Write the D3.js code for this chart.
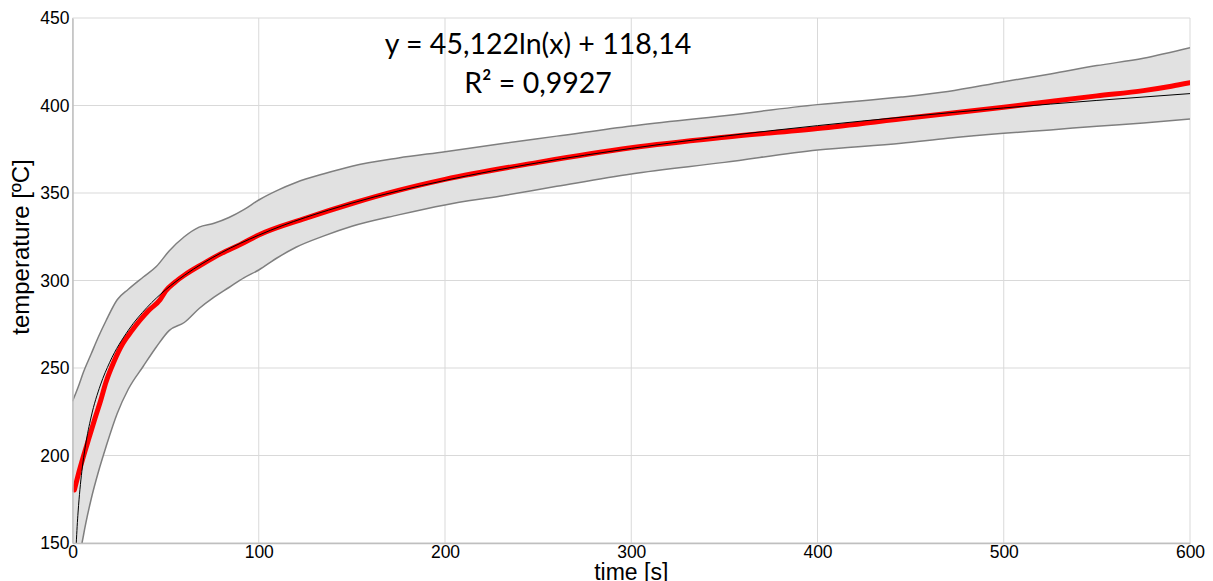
<!DOCTYPE html>
<html>
<head>
<meta charset="utf-8">
<script src="https://cdn.jsdelivr.net/npm/d3@7"></script>
<style>
  body { margin: 0; background: #fff; }
  svg { display: block; }
</style>
</head>
<body>
<div id="chart"></div>
<script>
// Mean measured temperature (red line)
const meanTime = [1, 3, 6, 9, 12, 15, 18, 22, 27, 32, 36, 41, 47, 50, 55, 60, 70, 80, 90, 100,
    125, 150, 175, 200, 250, 300, 350, 400, 450, 500, 525, 550, 575, 590, 600];
const meanTemp = [180.3, 188.7, 200, 210.5, 221, 231, 242, 253, 264, 271.5, 277, 283, 289, 294, 299, 303, 309.5, 315.5, 320.5, 326,
    335.5, 344, 351.5, 357.8, 367.5, 375.8, 381.8, 386.8, 393, 399, 402.3, 405.5, 408.5, 411, 413];

// Spread band (grey area)
const bandTime = [0, 3, 6, 10, 14, 18, 24, 30, 38, 45, 52, 60, 68, 76, 84, 92, 100, 110, 120, 135,
    150, 175, 200, 230, 260, 300, 350, 400, 445, 470, 500, 525, 550, 575, 600];
const bandUpper = [231, 239, 248, 258, 268, 277, 289, 295, 302, 308, 317, 325, 330.5, 332.7, 336, 340.5, 346, 351.5, 356, 361,
    365.3, 370, 373.6, 378.2, 382.5, 388.3, 394.2, 400.5, 404.8, 408, 413.6, 418, 422.8, 427, 433];
const bandLower = [95, 135, 155, 175, 191, 205, 224, 238, 251, 262, 271.5, 276, 284, 290.5, 296, 301.5, 306, 313, 319, 325.5,
    331, 337.5, 343.2, 348.3, 353.8, 360.9, 367.5, 374.6, 378.4, 381.3, 384.1, 386, 388.2, 390, 392.3];

// Logarithmic trend line (black)
const trendTime = [1.5, 2, 2.5, 3, 4, 5, 7, 10, 15, 20, 30, 40, 50, 60, 80, 100, 150, 200, 250, 300,
    350, 400, 450, 500, 550, 600];
const trendTemp = [136.4, 149.4, 159.5, 167.7, 180.7, 190.8, 205.9, 222.0, 240.3, 253.3, 271.6, 284.6, 294.7, 302.9, 315.9, 325.9, 344.2, 357.2, 367.3, 375.5,
    382.5, 388.5, 393.8, 398.6, 402.9, 406.8];

// Axis ticks and labels
const xTicks = [0, 100, 200, 300, 400, 500, 600];
const yTicks = [150, 200, 250, 300, 350, 400, 450];
const equationLines = ["y = 45,122ln(x) + 118,14", "R² = 0,9927"];

// Setting dimensions
const margin = {top: 18, right: 23, bottom: 38, left: 72.5},
    width = 1213 - margin.left - margin.right,
    height = 581 - margin.top - margin.bottom;

const xScale = d3.scaleLinear().domain([0, 600]).range([0, width]);
const yScale = d3.scaleLinear().domain([150, 450]).range([height, 0]);

const svg = d3.select("#chart").append("svg")
    .attr("width", 1213)
    .attr("height", 581)
    .append("g")
    .attr("transform", "translate(" + margin.left + "," + margin.top + ")");

svg.append("clipPath").attr("id", "plot-clip")
    .append("rect")
    .attr("width", width)
    .attr("height", height);

// Grid lines
svg.append("g")
    .selectAll("line")
    .data(xTicks)
    .enter().append("line")
    .attr("x1", d => xScale(d)).attr("x2", d => xScale(d))
    .attr("y1", 0).attr("y2", height)
    .attr("stroke", "#d9d9d9");

svg.append("g")
    .selectAll("line")
    .data(yTicks)
    .enter().append("line")
    .attr("x1", 0).attr("x2", width)
    .attr("y1", d => yScale(d)).attr("y2", d => yScale(d))
    .attr("stroke", "#d9d9d9");

const plot = svg.append("g").attr("clip-path", "url(#plot-clip)");

// Grey band
const band = bandTime.map((t, i) => ({t: t, hi: bandUpper[i], lo: bandLower[i]}));

plot.append("path")
    .datum(band)
    .attr("fill", "#e1e1e1")
    .attr("d", d3.area()
        .curve(d3.curveMonotoneX)
        .x(d => xScale(d.t))
        .y0(d => yScale(d.lo))
        .y1(d => yScale(d.hi)));

["hi", "lo"].forEach(function (key) {
    plot.append("path")
        .datum(band)
        .attr("fill", "none")
        .attr("stroke", "#7f7f7f")
        .attr("stroke-width", 1.5)
        .attr("d", d3.line()
            .curve(d3.curveMonotoneX)
            .x(d => xScale(d.t))
            .y(d => yScale(d[key])));
});

// Mean line
plot.append("path")
    .datum(meanTime.map((t, i) => [t, meanTemp[i]]))
    .attr("fill", "none")
    .attr("stroke", "#ff0000")
    .attr("stroke-width", 5)
    .attr("stroke-linecap", "round")
    .attr("d", d3.line()
        .curve(d3.curveMonotoneX)
        .x(d => xScale(d[0]))
        .y(d => yScale(d[1])));

// Trend line
plot.append("path")
    .datum(trendTime.map((t, i) => [t, trendTemp[i]]))
    .attr("fill", "none")
    .attr("stroke", "#000")
    .attr("stroke-width", 1)
    .attr("d", d3.line()
        .curve(d3.curveMonotoneX)
        .x(d => xScale(d[0]))
        .y(d => yScale(d[1])));

// Axes
const xAxis = svg.append("g")
    .attr("transform", "translate(0," + height + ")")
    .call(d3.axisBottom(xScale).tickValues(xTicks).tickSize(0).tickPadding(3));

const yAxis = svg.append("g")
    .call(d3.axisLeft(yScale).tickValues(yTicks).tickSize(0).tickPadding(3));

[xAxis, yAxis].forEach(function (axis) {
    axis.select(".domain").attr("stroke", "#bfbfbf").attr("stroke-width", 1.5);
    axis.selectAll("text")
        .attr("fill", "#000")
        .style("font-family", "'Liberation Sans', Arial, sans-serif")
        .style("font-size", "17.5px");
});

// Axis titles
svg.append("text")
    .attr("x", width / 2)
    .attr("y", height + 37)
    .attr("text-anchor", "middle")
    .style("font-family", "'Liberation Sans', Arial, sans-serif")
    .style("font-size", "23px")
    .text("time [s]");

svg.append("text")
    .attr("transform", "rotate(-90)")
    .attr("x", -229)
    .attr("y", -44)
    .attr("text-anchor", "middle")
    .style("font-family", "'Liberation Sans', Arial, sans-serif")
    .style("font-size", "24px")
    .text("temperature [ºC]");

// Trend equation
svg.selectAll(".equation")
    .data(equationLines)
    .enter().append("text")
    .attr("class", "equation")
    .attr("x", 538 - margin.left)
    .attr("y", (d, i) => 54 - margin.top + i * 39)
    .attr("text-anchor", "middle")
    .style("font-family", "Lato, 'Open Sans', sans-serif")
    .style("font-size", "28.5px")
    .text(d => d);
</script>
</body>
</html>
